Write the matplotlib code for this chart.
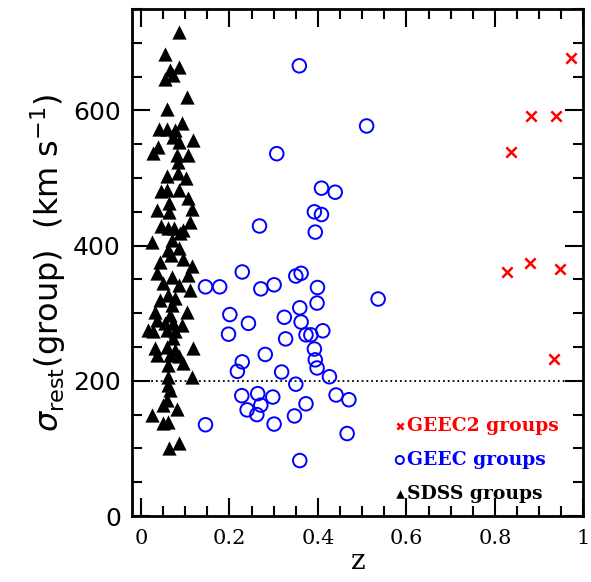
import matplotlib
matplotlib.use('Agg')
import matplotlib.pyplot as plt
from matplotlib.ticker import MultipleLocator

# SDSS groups (triangles)
sdss_z = [0.085, 0.054, 0.085, 0.066, 0.073, 0.055, 0.105, 0.059, 0.092, 0.042,
          0.058, 0.076, 0.072, 0.086, 0.118, 0.039, 0.027, 0.081, 0.107, 0.084,
          0.060, 0.083, 0.102, 0.045, 0.060, 0.086, 0.107, 0.063, 0.036, 0.063,
          0.115, 0.111, 0.045, 0.062, 0.075, 0.096, 0.088, 0.026, 0.070, 0.062,
          0.086, 0.069, 0.043, 0.096, 0.115,
          0.036, 0.070, 0.107, 0.051, 0.085, 0.111, 0.062, 0.043, 0.077, 0.070,
          0.032, 0.105, 0.066, 0.036, 0.054, 0.073, 0.094, 0.017, 0.028, 0.058,
          0.077, 0.073, 0.032, 0.058, 0.077, 0.118, 0.036, 0.066, 0.085, 0.062,
          0.096, 0.062, 0.115, 0.062, 0.066, 0.058, 0.050, 0.081, 0.026, 0.051,
          0.062, 0.064, 0.085]
sdss_sigma = [716, 684, 664, 660, 653, 647, 620, 602, 582, 572,
              572, 571, 560, 554, 556, 546, 537, 534, 534, 524,
              503, 507, 500, 481, 482, 482, 470, 463, 453, 449,
              454, 435, 429, 426, 426, 423, 418, 406, 408, 393,
              396, 386, 376, 380, 370,
              359, 354, 356, 344, 342, 334, 327, 320, 322, 312,
              302, 302, 297, 290, 285, 285, 283, 275, 273, 275,
              273, 263, 248, 250, 246, 248, 238, 238, 236, 223,
              226, 206, 205, 194, 186, 172, 164, 159, 149, 137,
              139, 100, 108]

# GEEC groups (open circles)
geec_z = [0.358, 0.510, 0.307, 0.408, 0.439, 0.392, 0.408, 0.268, 0.394,
          0.229, 0.350, 0.362, 0.146, 0.178, 0.271, 0.301, 0.399, 0.536,
          0.398, 0.359, 0.201, 0.243, 0.324, 0.362, 0.198, 0.327, 0.373,
          0.384, 0.411, 0.392, 0.281, 0.394, 0.398, 0.229, 0.218, 0.318,
          0.426, 0.350, 0.228, 0.264, 0.298, 0.441, 0.470, 0.271, 0.373,
          0.240, 0.262, 0.347, 0.146, 0.301, 0.466, 0.359]
geec_sigma = [666, 577, 536, 485, 479, 450, 446, 429, 420,
              361, 355, 359, 339, 339, 336, 342, 338, 321,
              315, 308, 298, 285, 294, 287, 269, 262, 268,
              268, 274, 247, 239, 231, 219, 228, 214, 213,
              206, 195, 178, 181, 176, 179, 172, 164, 166,
              157, 150, 148, 135, 136, 122, 82]

# GEEC2 groups (crosses)
geec2_z = [0.881, 0.937, 0.836, 0.828, 0.879, 0.947, 0.934, 0.971]
geec2_sigma = [592, 592, 538, 361, 374, 366, 232, 677]

fig = plt.figure(figsize=(5.91, 5.82), dpi=100)
ax = fig.add_axes([0.2234, 0.1134, 0.7639, 0.8711])

ax.scatter(geec2_z, geec2_sigma, marker='x', s=55, c='red', linewidths=1.8,
           label='GEEC2 groups', zorder=3)
ax.scatter(geec_z, geec_sigma, marker='o', s=95, facecolors='none',
           edgecolors='blue', linewidths=1.4, label='GEEC groups', zorder=3)
ax.scatter(sdss_z, sdss_sigma, marker='^', s=105, c='black', linewidths=0,
           label='SDSS groups', zorder=2)

ax.axhline(200, color='black', linestyle=':', linewidth=1.3, zorder=1)

ax.set_xlim(-0.02, 1.0)
ax.set_ylim(0, 750)

ax.xaxis.set_major_locator(MultipleLocator(0.2))
ax.xaxis.set_minor_locator(MultipleLocator(0.05))
ax.yaxis.set_major_locator(MultipleLocator(200))
ax.yaxis.set_minor_locator(MultipleLocator(50))
ax.tick_params(which='both', direction='in', top=True, right=True, width=1.5)
ax.tick_params(which='major', length=13)
ax.tick_params(which='minor', length=7)
ax.tick_params(axis='x', labelsize=15, pad=9)
ax.tick_params(axis='y', labelsize=18, pad=8)
ax.set_xticks([0, 0.2, 0.4, 0.6, 0.8, 1.0])
ax.set_xticklabels(['0', '0.2', '0.4', '0.6', '0.8', '1'], family='DejaVu Serif')
for sp in ax.spines.values():
    sp.set_linewidth(2)

ax.set_xlabel('z', family='DejaVu Serif', fontsize=20, labelpad=0)
ax.set_ylabel(r'$\sigma_{\rm rest}$(group)  (km s$^{-1}$)', fontsize=23, labelpad=4)

leg = ax.legend(loc='lower right', bbox_to_anchor=(0.975, 0.0), frameon=False,
                handletextpad=0.0, handlelength=0.8, markerscale=0.6,
                labelspacing=0.85, borderaxespad=0.3,
                prop={'family': 'DejaVu Serif', 'weight': 'bold', 'size': 13.5},
                labelcolor=['red', 'blue', 'black'])

fig.savefig('out.png', dpi=100)
